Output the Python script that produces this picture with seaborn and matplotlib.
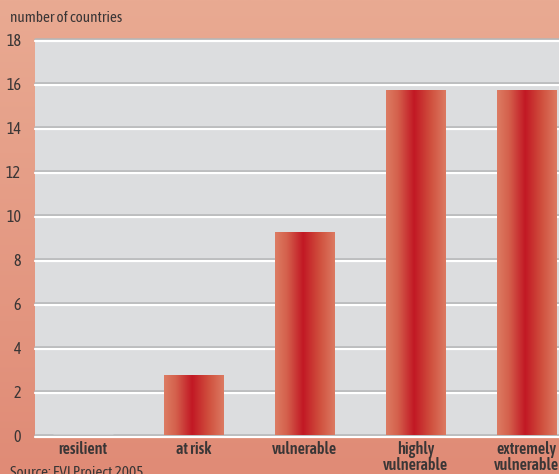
import numpy as np
import pandas as pd
import seaborn as sns
import matplotlib.pyplot as plt
import matplotlib.transforms as mtransforms
from matplotlib.colors import LinearSegmentedColormap

sns.set_style("white")
plt.rcParams['font.family'] = ['Asap Condensed', 'Archivo Narrow', 'DejaVu Sans']

categories = ['resilient', 'at risk', 'vulnerable', 'highly\nvulnerable', 'extremely\nvulnerable']
counts = [0, 2.75, 9.25, 15.7, 15.7]
yticks = [0, 2, 4, 6, 8, 10, 12, 14, 16, 18]

df = pd.DataFrame({'category': categories, 'count': counts})

fig = plt.figure(figsize=(5.59, 4.74), dpi=100)

# salmon background gradient
bg = fig.add_axes([0, 0, 1, 1], zorder=-10)
bg_cmap = LinearSegmentedColormap.from_list('bg', ['#e08b76', '#e9aa92'])
bg.imshow(np.linspace(0, 1, 256).reshape(-1, 1), aspect='auto', cmap=bg_cmap,
          origin='lower', extent=[0, 1, 0, 1])
bg.axis('off')

ax = fig.add_axes([35 / 559, 39 / 474, 524 / 559, 396 / 474])
ax.set_facecolor('#dcdddf')

sns.barplot(data=df, x='category', y='count', ax=ax, width=0.54,
            color='#c8202a', saturation=1, zorder=3)

ax.set_xlim(-0.43, 4.29)
ax.set_ylim(0, 18)

# double grid lines: grey with white underneath
white_tr = ax.get_yaxis_transform() + mtransforms.ScaledTranslation(0, -2 / 100, fig.dpi_scale_trans)
for t in yticks:
    ax.axhline(t, color='#b5b6b8', lw=1.8, zorder=1, clip_on=False)
    ax.plot([0, 1], [t, t], color='white', lw=1.6, zorder=1, clip_on=False,
            transform=white_tr)

# horizontal gradient on each bar
bar_cmap = LinearSegmentedColormap.from_list(
    'bar', [(0, '#dd7c63'), (0.2, '#d4604c'), (0.47, '#c21824'), (0.75, '#d0503e'), (1, '#dc7a62')])
grad = np.linspace(0, 1, 256).reshape(1, -1)
for p in ax.patches:
    h = p.get_height()
    if h <= 0:
        continue
    x0 = p.get_x()
    w = p.get_width()
    im = ax.imshow(grad, aspect='auto', cmap=bar_cmap, extent=[x0, x0 + w, 0, h],
                   zorder=4, interpolation='bicubic')
    im.set_clip_path(p)
    p.set_edgecolor('none')
ax.set_xlim(-0.43, 4.29)
ax.set_ylim(0, 18)

ax.set_yticks(yticks)
ax.tick_params(axis='both', length=0, labelcolor='#3a3636')
ax.tick_params(axis='y', labelsize=11.5, pad=10)
ax.tick_params(axis='x', labelsize=11.5, pad=4)
for lbl in ax.get_xticklabels():
    lbl.set_fontweight(600)
    lbl.set_linespacing(0.95)
ax.set_xlabel('')
ax.set_ylabel('')
sns.despine(ax=ax, left=True, bottom=True)

fig.text(10 / 559, 1 - 18 / 474, 'number of countries', fontsize=11,
         color='#3a3636', va='center', ha='left')
fig.text(10 / 559, 1 - 466 / 474, 'Source: EVI Project 2005', fontsize=11,
         color='#3a3636', va='top', ha='left')

fig.savefig('out.png', dpi=100)
